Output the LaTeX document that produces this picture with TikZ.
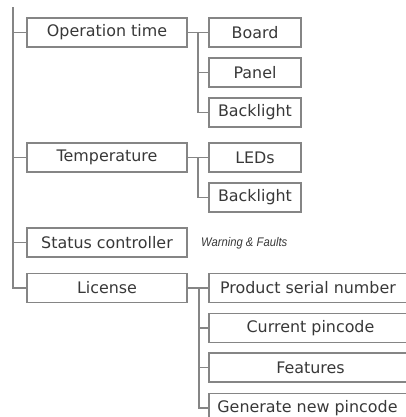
\documentclass[tikz,border=0pt]{standalone}
\usepackage{fontspec}
\setmainfont{DejaVu Sans}
\newfontfamily\notefont[FakeStretch=0.9]{Liberation Sans}
\definecolor{linegray}{HTML}{858585}
\definecolor{textgray}{HTML}{383838}
\begin{document}
\begin{tikzpicture}[x=1bp,y=-1bp,
  conn/.style={draw=linegray,line width=1.3bp},
  box/.style={draw=linegray,line width=1.3bp,text=textgray,inner sep=0pt,
    font=\fontsize{15.9bp}{18bp}\selectfont,minimum height=29bp,anchor=center},
  lvlone/.style={box,minimum width=160bp},
  lvltwo/.style={box,minimum width=92bp},
  lvlwide/.style={box,minimum width=203bp},
  note/.style={text=textgray,font=\notefont\itshape\fontsize{12.5bp}{14bp}\selectfont,anchor=west,inner sep=0pt}]
\useasboundingbox (0,0) rectangle (406,417);
\clip (0,0) rectangle (406,417);
% level one
\node[lvlone] (op) at (107,32.5) {Operation time};
\node[lvlone] (temp) at (107,157.5) {Temperature};
\node[lvlone] (stat) at (107,242.5) {Status controller};
\node[lvlone] (lic) at (107,288) {License};
% level two
\node[lvltwo] (board) at (255,32.5) {Board};
\node[lvltwo] (panel) at (255,72.5) {Panel};
\node[lvltwo] (backa) at (255,112.5) {Backlight};
\node[lvltwo] (leds) at (255,157.5) {LEDs};
\node[lvltwo] (backb) at (255,197.5) {Backlight};
\node[lvlwide] (serial) at (310.5,288) {\hspace*{-5bp}Product serial number};
\node[lvlwide] (pin) at (310.5,328) {Current pincode};
\node[lvlwide] (feat) at (310.5,367.5) {Features};
\node[lvlwide] (gen) at (310.5,408) {\hspace*{-6bp}Generate new pincode};
\node[note] (warn) at (201,243.5) {Warning \& Faults};
% trunk
\coordinate (top) at (13,7);
\draw[conn] (top) |- (lic.west);
\draw[conn] (op.west -| top) -- (op.west);
\draw[conn] (temp.west -| top) -- (temp.west);
\draw[conn] (stat.west -| top) -- (stat.west);
% operation time children
\coordinate (opj) at (198,0);
\draw[conn] (op.east) -- (board.west);
\draw[conn] (opj |- board.west) |- (backa.west);
\draw[conn] (opj |- panel.west) -- (panel.west);
% temperature children
\draw[conn] (temp.east) -- (leds.west);
\draw[conn] (opj |- leds.west) |- (backb.west);
% license children
\coordinate (licj) at (199,0);
\draw[conn] (lic.east) -- (serial.west);
\draw[conn] (licj |- serial.west) |- (gen.west);
\draw[conn] (licj |- pin.west) -- (pin.west);
\draw[conn] (licj |- feat.west) -- (feat.west);
\end{tikzpicture}
\end{document}
